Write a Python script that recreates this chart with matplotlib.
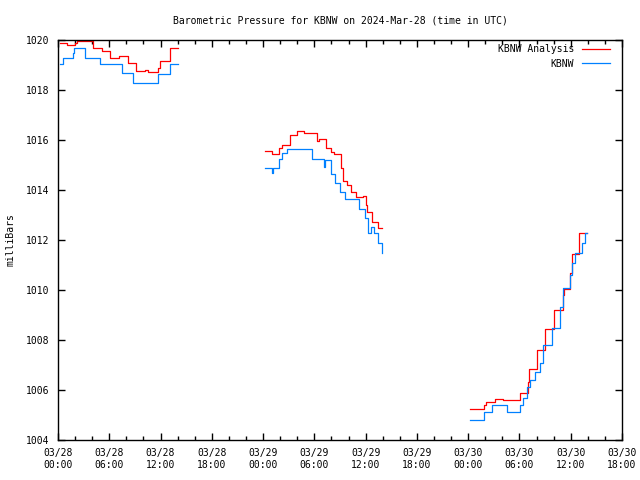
import matplotlib
matplotlib.use("Agg")
import matplotlib.pyplot as plt
from matplotlib.ticker import MultipleLocator

# time in hours since 2024-03-28 00:00 UTC
ana_t1 = [0.24, 1.10, 1.95, 2.20, 4.03, 4.15, 4.89, 5.13, 5.86, 6.11, 7.09, 8.19, 8.80, 9.16, 9.29, 10.14, 10.51, 11.73, 11.97, 12.34, 13.07, 13.32, 14.05]
ana_p1 = [1019.87, 1019.80, 1019.90, 1019.95, 1019.95, 1019.70, 1019.70, 1019.56, 1019.56, 1019.27, 1019.36, 1019.07, 1019.10, 1018.76, 1018.76, 1018.80, 1018.71, 1018.87, 1019.16, 1019.16, 1019.67, 1019.67, 1019.67]
obs_t1 = [0.24, 0.61, 1.71, 1.83, 3.18, 3.42, 4.89, 5.01, 7.45, 7.58, 8.80, 11.73, 11.97, 13.07, 13.32, 14.05]
obs_p1 = [1019.04, 1019.30, 1019.50, 1019.70, 1019.30, 1019.30, 1019.04, 1019.04, 1018.67, 1018.67, 1018.30, 1018.64, 1018.64, 1019.04, 1019.04, 1019.04]

ana_t2 = [24.19, 25.05, 25.90, 26.27, 27.12, 27.98, 28.83, 29.45, 30.30, 30.55, 31.40, 31.89, 32.26, 33.11, 33.35, 33.84, 34.33, 34.82, 35.68, 36.04, 36.17, 36.78, 37.39, 37.88]
ana_p2 = [1015.55, 1015.44, 1015.68, 1015.80, 1016.20, 1016.36, 1016.27, 1016.27, 1015.97, 1016.04, 1015.67, 1015.53, 1015.43, 1014.88, 1014.36, 1014.20, 1013.93, 1013.71, 1013.76, 1013.40, 1013.13, 1012.73, 1012.49, 1012.49]
obs_t2 = [24.19, 24.80, 25.05, 25.17, 25.90, 26.27, 26.76, 29.45, 29.69, 30.91, 31.16, 31.28, 31.89, 32.38, 32.99, 33.60, 34.94, 35.19, 35.92, 36.29, 36.65, 37.02, 37.39, 37.88]
obs_p2 = [1014.90, 1014.90, 1014.67, 1014.90, 1015.23, 1015.47, 1015.63, 1015.63, 1015.23, 1015.23, 1014.93, 1015.20, 1014.64, 1014.27, 1013.93, 1013.64, 1013.64, 1013.23, 1012.90, 1012.28, 1012.51, 1012.30, 1011.90, 1011.50]

ana_t3 = [48.21, 49.85, 50.09, 51.14, 52.08, 54.07, 55.00, 55.12, 56.06, 56.99, 58.04, 59.08, 59.22, 59.92, 60.15, 60.97, 61.91]
ana_p3 = [1005.24, 1005.40, 1005.53, 1005.63, 1005.59, 1005.89, 1006.33, 1006.83, 1007.60, 1008.43, 1009.20, 1009.80, 1010.04, 1010.67, 1011.44, 1012.27, 1012.27]
obs_t3 = [48.21, 49.85, 50.79, 52.55, 54.07, 54.42, 54.89, 55.24, 55.82, 56.41, 56.76, 57.81, 58.75, 59.10, 59.92, 60.15, 60.50, 61.32, 61.67, 61.91]
obs_p3 = [1004.80, 1005.11, 1005.40, 1005.11, 1005.40, 1005.70, 1006.13, 1006.40, 1006.73, 1007.10, 1007.80, 1008.50, 1009.33, 1010.07, 1010.60, 1011.10, 1011.50, 1011.90, 1012.27, 1012.27]

xtick_labels = ["03/28\n00:00", "03/28\n06:00", "03/28\n12:00", "03/28\n18:00",
                "03/29\n00:00", "03/29\n06:00", "03/29\n12:00", "03/29\n18:00",
                "03/30\n00:00", "03/30\n06:00", "03/30\n12:00", "03/30\n18:00"]

plt.rcParams['font.family'] = ['DejaVu Sans Mono']
plt.rcParams['font.size'] = 7

fig = plt.figure(figsize=(6.4, 4.8), dpi=100)
ax = fig.add_axes([58/640, 40/480, 564/640, 400/480])

red = '#ff0000'
blue = '#0080ff'
first = True
for (at, ap, ot, op) in [(ana_t1, ana_p1, obs_t1, obs_p1), (ana_t2, ana_p2, obs_t2, obs_p2), (ana_t3, ana_p3, obs_t3, obs_p3)]:
    ax.step(at, ap, where='post', color=red, lw=0.9, label='KBNW Analysis' if first else None)
    ax.step(ot, op, where='post', color=blue, lw=0.9, label='KBNW' if first else None)
    first = False

ax.set_xlim(0, 66)
ax.set_ylim(1004, 1020)
ax.set_xticks([6 * i for i in range(12)])
ax.set_xticklabels(xtick_labels)
ax.xaxis.set_minor_locator(MultipleLocator(2))
ax.yaxis.set_major_locator(MultipleLocator(2))
ax.tick_params(direction='in', top=True, right=True, which='both', length=5, width=1, pad=6)
ax.tick_params(which='minor', length=3)
for s in ax.spines.values():
    s.set_linewidth(1)
ax.set_ylabel('milliBars', labelpad=8)
ax.set_title('Barometric Pressure for KBNW on 2024-Mar-28 (time in UTC)', fontsize=7, pad=12)

h, l = ax.get_legend_handles_labels()
leg = ax.legend(h, l, loc='upper right', bbox_to_anchor=(0.9787, 0.989), frameon=False, markerfirst=False,
                handlelength=2.9, borderaxespad=0, borderpad=0, labelspacing=0.45, handletextpad=0.8)
for t in leg.get_texts():
    t.set_ha('right')

fig.savefig('out.png', dpi=100)
